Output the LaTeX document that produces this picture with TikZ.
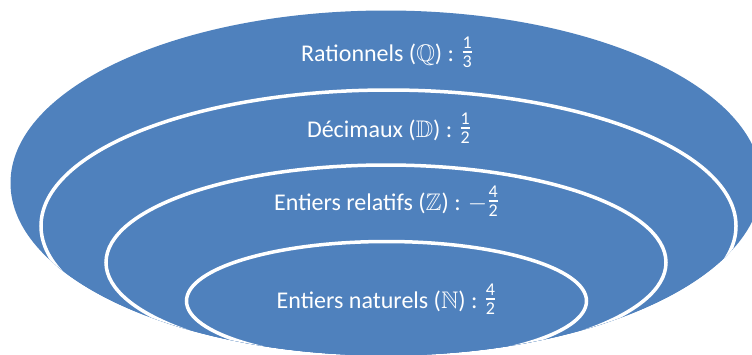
\documentclass[tikz,border=0pt]{standalone}
\usepackage{fontspec}
\setmainfont{Carlito}
\usepackage{amsmath,amssymb}
\usetikzlibrary{shapes.geometric}
\definecolor{ringblue}{HTML}{4F81BD}
\newcommand{\qdigit}[1]{\text{\fontsize{18}{20}\selectfont #1}}
\newcommand{\qfrac}[2]{\raisebox{2.5pt}{$\genfrac{}{}{1.6pt}{}{\qdigit{#1}}{\qdigit{#2}}$}}

\begin{document}
\begin{tikzpicture}
[every node/.style={inner sep=0pt},
 ring/.style={ellipse, fill=ringblue, draw=white, line width=3.5pt},
 ringtext/.style={anchor=base, text=white, font=\fontsize{24}{29}\selectfont}]
\useasboundingbox (0pt, 0pt) rectangle (752pt, -354pt);
\node (Q) [ellipse, fill=ringblue, minimum width=751pt, minimum height=345pt] at (386pt, -183pt) {};
\begin{scope}
\clip (386pt, -183pt) ellipse [x radius=375.5pt, y radius=172.5pt];
\node (D) [ring, minimum width=695pt, minimum height=272pt] at (388.5pt, -226pt) {};
\node (Z) [ring, minimum width=560pt, minimum height=195pt] at (386pt, -262.5pt) {};
\node (N) [ring, minimum width=400pt, minimum height=119pt] at (386.5pt, -301pt) {};
\end{scope}
\node (Qtext) [ringtext] at (387pt, -61pt) {Rationnels ($\mathbb{Q}$) : \qfrac{1}{3}};
\node (Dtext) [ringtext] at (389pt, -137pt) {Décimaux ($\mathbb{D}$) : \qfrac{1}{2}};
\node (Ztext) [ringtext] at (386.5pt, -210pt) {Entiers relatifs ($\mathbb{Z}$) : $-$\qfrac{4}{2}};
\node (Ntext) [ringtext] at (386.5pt, -308pt) {Entiers naturels ($\mathbb{N}$) : \qfrac{4}{2}};
\end{tikzpicture}
\end{document}
